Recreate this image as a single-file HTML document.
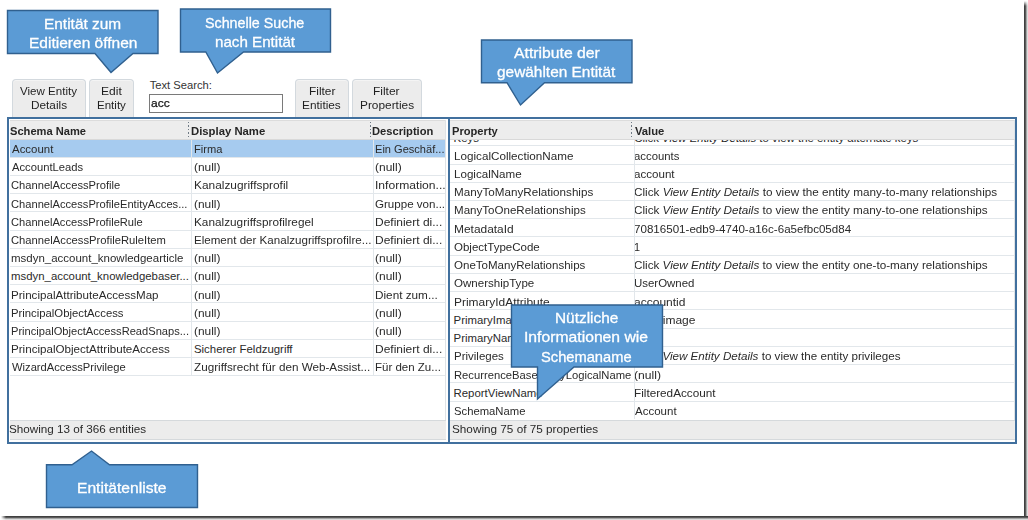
<!DOCTYPE html>
<html><head><meta charset="utf-8"><style>
html,body{margin:0;padding:0;background:#fff;}
#root{position:relative;width:1028px;height:520px;overflow:hidden;background:#fff;font-family:"Liberation Sans",sans-serif;}
.t{position:absolute;white-space:nowrap;transform-origin:0 0;}
.r{position:absolute;box-sizing:content-box;}
.btn{position:absolute;background:#ececec;border:1px solid #d3d9de;border-bottom:none;border-radius:4px 4px 0 0;box-shadow:inset 0 1px 0 #f4f4f4;}
i{font-style:italic;}
</style></head><body><div id="root">
<div class="btn" style="left:12px;top:79px;width:72px;height:40px;"></div>
<div class="t" style="left:20.25px;top:85.38px;font-size:11.6px;line-height:11.6px;color:#1f1f1f;font-weight:normal;transform:scaleX(0.9966);">View Entity</div>
<div class="t" style="left:30.63px;top:99.18px;font-size:11.6px;line-height:11.6px;color:#1f1f1f;font-weight:normal;transform:scaleX(1.0178);">Details</div>
<div class="btn" style="left:89px;top:79px;width:43px;height:40px;"></div>
<div class="t" style="left:100.71px;top:85.38px;font-size:11.6px;line-height:11.6px;color:#1f1f1f;font-weight:normal;transform:scaleX(1.0393);">Edit</div>
<div class="t" style="left:96.65px;top:99.18px;font-size:11.6px;line-height:11.6px;color:#1f1f1f;font-weight:normal;transform:scaleX(0.9951);">Entity</div>
<div class="btn" style="left:295px;top:79px;width:52px;height:40px;"></div>
<div class="t" style="left:308.72px;top:85.38px;font-size:11.6px;line-height:11.6px;color:#1f1f1f;font-weight:normal;transform:scaleX(1.0269);">Filter</div>
<div class="t" style="left:302.33px;top:99.18px;font-size:11.6px;line-height:11.6px;color:#1f1f1f;font-weight:normal;transform:scaleX(1.0200);">Entities</div>
<div class="btn" style="left:352px;top:79px;width:68px;height:40px;"></div>
<div class="t" style="left:373.22px;top:85.38px;font-size:11.6px;line-height:11.6px;color:#1f1f1f;font-weight:normal;transform:scaleX(1.0309);">Filter</div>
<div class="t" style="left:359.53px;top:99.18px;font-size:11.6px;line-height:11.6px;color:#1f1f1f;font-weight:normal;transform:scaleX(1.0232);">Properties</div>
<div class="t" style="left:149.65px;top:79.52px;font-size:11.2px;line-height:11.2px;color:#333;font-weight:normal;">Text Search:</div>
<div class="r" style="left:149px;top:94px;width:132px;height:17px;border:1px solid #7a7a7a;background:#fff"></div>
<div class="t" style="left:150.90px;top:98.01px;font-size:11.8px;line-height:11.8px;color:#111;font-weight:normal;transform:scaleX(1.0138);-webkit-text-stroke:0.25px #111;">acc</div>
<div class="r" style="left:9px;top:119px;width:439px;height:323px;background:#fff;"></div>
<div class="r" style="left:10px;top:120px;width:436px;height:19.5px;background:#ededed;border-top:1px solid #dcdcdc;"></div>
<div class="r" style="left:10px;top:139px;width:436px;height:1px;background:#d9d9d9;"></div>
<div class="r" style="left:10px;top:139.5px;width:436px;height:17.299999999999983px;background:#a6cbef;"></div>
<div class="r" style="left:10px;top:156.79999999999998px;width:436px;height:1.0px;background:#e2e7eb;"></div>
<div class="t" style="left:11.73px;top:144.05px;font-size:11.4px;line-height:11.4px;color:#2a2a2a;font-weight:normal;transform:scaleX(1.0040);">Account</div>
<div class="t" style="left:193.59px;top:144.05px;font-size:11.4px;line-height:11.4px;color:#2a2a2a;font-weight:normal;transform:scaleX(0.9754);">Firma</div>
<div class="t" style="left:374.89px;top:144.05px;font-size:11.4px;line-height:11.4px;color:#2a2a2a;font-weight:normal;transform:scaleX(0.9708);">Ein Geschäf...</div>
<div class="r" style="left:10px;top:175.0px;width:436px;height:1.0px;background:#e2e7eb;"></div>
<div class="t" style="left:11.73px;top:162.25px;font-size:11.4px;line-height:11.4px;color:#2a2a2a;font-weight:normal;transform:scaleX(0.9851);">AccountLeads</div>
<div class="t" style="left:193.76px;top:162.25px;font-size:11.4px;line-height:11.4px;color:#2a2a2a;font-weight:normal;transform:scaleX(1.0448);">(null)</div>
<div class="t" style="left:375.06px;top:162.25px;font-size:11.4px;line-height:11.4px;color:#2a2a2a;font-weight:normal;transform:scaleX(1.0531);">(null)</div>
<div class="r" style="left:10px;top:193.2px;width:436px;height:1.0px;background:#e2e7eb;"></div>
<div class="t" style="left:11.18px;top:180.45px;font-size:11.4px;line-height:11.4px;color:#2a2a2a;font-weight:normal;transform:scaleX(0.9801);">ChannelAccessProfile</div>
<div class="t" style="left:193.53px;top:180.45px;font-size:11.4px;line-height:11.4px;color:#2a2a2a;font-weight:normal;transform:scaleX(1.0427);">Kanalzugriffsprofil</div>
<div class="t" style="left:374.69px;top:180.45px;font-size:11.4px;line-height:11.4px;color:#2a2a2a;font-weight:normal;transform:scaleX(1.0629);">Information...</div>
<div class="r" style="left:10px;top:211.39999999999998px;width:436px;height:1.0px;background:#e2e7eb;"></div>
<div class="t" style="left:11.18px;top:198.65px;font-size:11.4px;line-height:11.4px;color:#2a2a2a;font-weight:normal;transform:scaleX(0.9778);">ChannelAccessProfileEntityAcces...</div>
<div class="t" style="left:193.76px;top:198.65px;font-size:11.4px;line-height:11.4px;color:#2a2a2a;font-weight:normal;transform:scaleX(1.0448);">(null)</div>
<div class="t" style="left:375.22px;top:198.65px;font-size:11.4px;line-height:11.4px;color:#2a2a2a;font-weight:normal;transform:scaleX(1.0153);">Gruppe von...</div>
<div class="r" style="left:10px;top:229.6px;width:436px;height:1.0px;background:#e2e7eb;"></div>
<div class="t" style="left:11.18px;top:216.85px;font-size:11.4px;line-height:11.4px;color:#2a2a2a;font-weight:normal;transform:scaleX(0.9766);">ChannelAccessProfileRule</div>
<div class="t" style="left:193.53px;top:216.85px;font-size:11.4px;line-height:11.4px;color:#2a2a2a;font-weight:normal;transform:scaleX(1.0345);">Kanalzugriffsprofilregel</div>
<div class="t" style="left:374.82px;top:216.85px;font-size:11.4px;line-height:11.4px;color:#2a2a2a;font-weight:normal;transform:scaleX(1.0513);">Definiert di...</div>
<div class="r" style="left:10px;top:247.79999999999998px;width:436px;height:1.0px;background:#e2e7eb;"></div>
<div class="t" style="left:11.18px;top:235.05px;font-size:11.4px;line-height:11.4px;color:#2a2a2a;font-weight:normal;transform:scaleX(0.9868);">ChannelAccessProfileRuleItem</div>
<div class="t" style="left:193.55px;top:235.05px;font-size:11.4px;line-height:11.4px;color:#2a2a2a;font-weight:normal;transform:scaleX(1.0162);">Element der Kanalzugriffsprofilre...</div>
<div class="t" style="left:374.82px;top:235.05px;font-size:11.4px;line-height:11.4px;color:#2a2a2a;font-weight:normal;transform:scaleX(1.0513);">Definiert di...</div>
<div class="r" style="left:10px;top:266.0px;width:436px;height:1.0px;background:#e2e7eb;"></div>
<div class="t" style="left:10.99px;top:253.25px;font-size:11.4px;line-height:11.4px;color:#2a2a2a;font-weight:normal;transform:scaleX(1.0083);">msdyn_account_knowledgearticle</div>
<div class="t" style="left:193.76px;top:253.25px;font-size:11.4px;line-height:11.4px;color:#2a2a2a;font-weight:normal;transform:scaleX(1.0448);">(null)</div>
<div class="t" style="left:375.06px;top:253.25px;font-size:11.4px;line-height:11.4px;color:#2a2a2a;font-weight:normal;transform:scaleX(1.0531);">(null)</div>
<div class="r" style="left:10px;top:284.2px;width:436px;height:1.0px;background:#e2e7eb;"></div>
<div class="t" style="left:11.00px;top:271.45px;font-size:11.4px;line-height:11.4px;color:#2a2a2a;font-weight:normal;">msdyn_account_knowledgebaser...</div>
<div class="t" style="left:193.76px;top:271.45px;font-size:11.4px;line-height:11.4px;color:#2a2a2a;font-weight:normal;transform:scaleX(1.0448);">(null)</div>
<div class="t" style="left:375.06px;top:271.45px;font-size:11.4px;line-height:11.4px;color:#2a2a2a;font-weight:normal;transform:scaleX(1.0531);">(null)</div>
<div class="r" style="left:10px;top:302.4px;width:436px;height:1.0px;background:#e2e7eb;"></div>
<div class="t" style="left:10.80px;top:289.65px;font-size:11.4px;line-height:11.4px;color:#2a2a2a;font-weight:normal;transform:scaleX(1.0179);">PrincipalAttributeAccessMap</div>
<div class="t" style="left:193.76px;top:289.65px;font-size:11.4px;line-height:11.4px;color:#2a2a2a;font-weight:normal;transform:scaleX(1.0448);">(null)</div>
<div class="t" style="left:374.84px;top:289.65px;font-size:11.4px;line-height:11.4px;color:#2a2a2a;font-weight:normal;transform:scaleX(1.0315);">Dient zum...</div>
<div class="r" style="left:10px;top:320.6px;width:436px;height:1.0px;background:#e2e7eb;"></div>
<div class="t" style="left:10.82px;top:307.85px;font-size:11.4px;line-height:11.4px;color:#2a2a2a;font-weight:normal;transform:scaleX(0.9928);">PrincipalObjectAccess</div>
<div class="t" style="left:193.76px;top:307.85px;font-size:11.4px;line-height:11.4px;color:#2a2a2a;font-weight:normal;transform:scaleX(1.0448);">(null)</div>
<div class="t" style="left:375.06px;top:307.85px;font-size:11.4px;line-height:11.4px;color:#2a2a2a;font-weight:normal;transform:scaleX(1.0531);">(null)</div>
<div class="r" style="left:10px;top:338.79999999999995px;width:436px;height:1.0px;background:#e2e7eb;"></div>
<div class="t" style="left:10.84px;top:326.05px;font-size:11.4px;line-height:11.4px;color:#2a2a2a;font-weight:normal;transform:scaleX(0.9764);">PrincipalObjectAccessReadSnaps...</div>
<div class="t" style="left:193.76px;top:326.05px;font-size:11.4px;line-height:11.4px;color:#2a2a2a;font-weight:normal;transform:scaleX(1.0448);">(null)</div>
<div class="t" style="left:375.06px;top:326.05px;font-size:11.4px;line-height:11.4px;color:#2a2a2a;font-weight:normal;transform:scaleX(1.0531);">(null)</div>
<div class="r" style="left:10px;top:357.0px;width:436px;height:1.0px;background:#e2e7eb;"></div>
<div class="t" style="left:10.80px;top:344.25px;font-size:11.4px;line-height:11.4px;color:#2a2a2a;font-weight:normal;transform:scaleX(1.0193);">PrincipalObjectAttributeAccess</div>
<div class="t" style="left:193.99px;top:344.25px;font-size:11.4px;line-height:11.4px;color:#2a2a2a;font-weight:normal;">Sicherer Feldzugriff</div>
<div class="t" style="left:374.82px;top:344.25px;font-size:11.4px;line-height:11.4px;color:#2a2a2a;font-weight:normal;transform:scaleX(1.0513);">Definiert di...</div>
<div class="r" style="left:10px;top:375.2px;width:436px;height:1.0px;background:#e2e7eb;"></div>
<div class="t" style="left:11.71px;top:362.45px;font-size:11.4px;line-height:11.4px;color:#2a2a2a;font-weight:normal;transform:scaleX(0.9815);">WizardAccessPrivilege</div>
<div class="t" style="left:194.14px;top:362.45px;font-size:11.4px;line-height:11.4px;color:#2a2a2a;font-weight:normal;transform:scaleX(1.0263);">Zugriffsrecht für den Web-Assist...</div>
<div class="t" style="left:374.86px;top:362.45px;font-size:11.4px;line-height:11.4px;color:#2a2a2a;font-weight:normal;transform:scaleX(1.0096);">Für den Zu...</div>
<div class="r" style="left:191px;top:139.5px;width:1px;height:236.2px;background:#e2e7eb;"></div>
<div class="r" style="left:373px;top:139.5px;width:1px;height:236.2px;background:#e2e7eb;"></div>
<div class="r" style="left:445px;top:120px;width:1px;height:319px;background:#dfe3e6;"></div>
<div class="r" style="left:188px;top:122px;width:1px;height:16px;background:repeating-linear-gradient(to bottom,#6f7a85 0,#6f7a85 1.5px,transparent 1.5px,transparent 3.5px)"></div>
<div class="r" style="left:370px;top:122px;width:1px;height:16px;background:repeating-linear-gradient(to bottom,#6f7a85 0,#6f7a85 1.5px,transparent 1.5px,transparent 3.5px)"></div>
<div class="t" style="left:9.88px;top:125.60px;font-size:11.1px;line-height:11.1px;color:#262626;font-weight:bold;transform:scaleX(1.0028);">Schema Name</div>
<div class="t" style="left:190.64px;top:125.60px;font-size:11.1px;line-height:11.1px;color:#262626;font-weight:bold;transform:scaleX(1.0199);">Display Name</div>
<div class="t" style="left:372.25px;top:125.60px;font-size:11.1px;line-height:11.1px;color:#262626;font-weight:bold;transform:scaleX(1.0045);">Description</div>
<div class="r" style="left:9.5px;top:420px;width:436.5px;height:17.5px;background:#ececec;border-top:1px solid #d5d9dc;border-bottom:1px solid #d5d9dc;"></div>
<div class="t" style="left:8.77px;top:424.27px;font-size:11.5px;line-height:11.5px;color:#2a2a2a;font-weight:normal;transform:scaleX(1.0166);">Showing 13 of 366 entities</div>
<div class="r" style="left:450px;top:119px;width:565px;height:323px;background:#fff;"></div>
<div class="r" style="left:450px;top:120px;width:564.5px;height:19px;background:#ededed;border-top:1px solid #dcdcdc;"></div>
<div class="r" style="left:450px;top:139px;width:565px;height:281px;overflow:hidden"><div class="r" style="left:-450px;top:-139px;width:1028px;height:520px"><div class="r" style="left:450px;top:145.3px;width:564.5px;height:1.0px;background:#e2e7eb;"></div><div class="t" style="left:453.57px;top:133.05px;font-size:11.4px;line-height:11.4px;color:#2a2a2a;font-weight:normal;">Keys</div><div class="t" style="left:634.22px;top:133.05px;font-size:11.4px;line-height:11.4px;color:#2a2a2a;font-weight:normal;">Click <i>View Entity Details</i> to view the entity alternate keys</div><div class="r" style="left:450px;top:163.53px;width:564.5px;height:1.0px;background:#e2e7eb;"></div><div class="t" style="left:453.54px;top:150.78px;font-size:11.4px;line-height:11.4px;color:#2a2a2a;font-weight:normal;transform:scaleX(1.0247);">LogicalCollectionName</div><div class="t" style="left:634.32px;top:150.78px;font-size:11.4px;line-height:11.4px;color:#2a2a2a;font-weight:normal;transform:scaleX(0.9948);">accounts</div><div class="r" style="left:450px;top:181.76000000000002px;width:564.5px;height:1.0px;background:#e2e7eb;"></div><div class="t" style="left:453.55px;top:169.01px;font-size:11.4px;line-height:11.4px;color:#2a2a2a;font-weight:normal;transform:scaleX(1.0178);">LogicalName</div><div class="t" style="left:634.31px;top:169.01px;font-size:11.4px;line-height:11.4px;color:#2a2a2a;font-weight:normal;transform:scaleX(1.0159);">account</div><div class="r" style="left:450px;top:199.99px;width:564.5px;height:1.0px;background:#e2e7eb;"></div><div class="t" style="left:453.54px;top:187.24px;font-size:11.4px;line-height:11.4px;color:#2a2a2a;font-weight:normal;transform:scaleX(1.0231);">ManyToManyRelationships</div><div class="t" style="left:634.20px;top:187.24px;font-size:11.4px;line-height:11.4px;color:#2a2a2a;font-weight:normal;transform:scaleX(1.0285);">Click <i>View Entity Details</i> to view the entity many-to-many relationships</div><div class="r" style="left:450px;top:218.22000000000003px;width:564.5px;height:1.0px;background:#e2e7eb;"></div><div class="t" style="left:453.55px;top:205.47px;font-size:11.4px;line-height:11.4px;color:#2a2a2a;font-weight:normal;transform:scaleX(1.0151);">ManyToOneRelationships</div><div class="t" style="left:634.20px;top:205.47px;font-size:11.4px;line-height:11.4px;color:#2a2a2a;font-weight:normal;transform:scaleX(1.0274);">Click <i>View Entity Details</i> to view the entity many-to-one relationships</div><div class="r" style="left:450px;top:236.45000000000002px;width:564.5px;height:1.0px;background:#e2e7eb;"></div><div class="t" style="left:453.52px;top:223.70px;font-size:11.4px;line-height:11.4px;color:#2a2a2a;font-weight:normal;transform:scaleX(1.0475);">MetadataId</div><div class="t" style="left:634.21px;top:223.70px;font-size:11.4px;line-height:11.4px;color:#2a2a2a;font-weight:normal;transform:scaleX(1.0174);">70816501-edb9-4740-a16c-6a5efbc05d84</div><div class="r" style="left:450px;top:254.68px;width:564.5px;height:1.0px;background:#e2e7eb;"></div><div class="t" style="left:453.96px;top:241.93px;font-size:11.4px;line-height:11.4px;color:#2a2a2a;font-weight:normal;transform:scaleX(1.0104);">ObjectTypeCode</div><div class="t" style="left:633.97px;top:241.93px;font-size:11.4px;line-height:11.4px;color:#2a2a2a;font-weight:normal;transform:scaleX(0.9544);">1</div><div class="r" style="left:450px;top:272.91px;width:564.5px;height:1.0px;background:#e2e7eb;"></div><div class="t" style="left:453.96px;top:260.16px;font-size:11.4px;line-height:11.4px;color:#2a2a2a;font-weight:normal;transform:scaleX(1.0120);">OneToManyRelationships</div><div class="t" style="left:634.20px;top:260.16px;font-size:11.4px;line-height:11.4px;color:#2a2a2a;font-weight:normal;transform:scaleX(1.0274);">Click <i>View Entity Details</i> to view the entity one-to-many relationships</div><div class="r" style="left:450px;top:291.14px;width:564.5px;height:1.0px;background:#e2e7eb;"></div><div class="t" style="left:453.96px;top:278.39px;font-size:11.4px;line-height:11.4px;color:#2a2a2a;font-weight:normal;transform:scaleX(1.0138);">OwnershipType</div><div class="t" style="left:633.92px;top:278.39px;font-size:11.4px;line-height:11.4px;color:#2a2a2a;font-weight:normal;transform:scaleX(1.0054);">UserOwned</div><div class="r" style="left:450px;top:309.37px;width:564.5px;height:1.0px;background:#e2e7eb;"></div><div class="t" style="left:453.52px;top:296.62px;font-size:11.4px;line-height:11.4px;color:#2a2a2a;font-weight:normal;transform:scaleX(1.0497);">PrimaryIdAttribute</div><div class="t" style="left:634.29px;top:296.62px;font-size:11.4px;line-height:11.4px;color:#2a2a2a;font-weight:normal;transform:scaleX(1.0547);">accountid</div><div class="r" style="left:450px;top:327.6px;width:564.5px;height:1.0px;background:#e2e7eb;"></div><div class="t" style="left:453.57px;top:314.85px;font-size:11.4px;line-height:11.4px;color:#2a2a2a;font-weight:normal;">PrimaryImageAttribute</div><div class="t" style="left:634.30px;top:314.85px;font-size:11.4px;line-height:11.4px;color:#2a2a2a;font-weight:normal;transform:scaleX(1.0546);">entityimage</div><div class="r" style="left:450px;top:345.83000000000004px;width:564.5px;height:1.0px;background:#e2e7eb;"></div><div class="t" style="left:453.57px;top:333.08px;font-size:11.4px;line-height:11.4px;color:#2a2a2a;font-weight:normal;">PrimaryNameAttribute</div><div class="t" style="left:634.05px;top:333.08px;font-size:11.4px;line-height:11.4px;color:#2a2a2a;font-weight:normal;">name</div><div class="r" style="left:450px;top:364.06px;width:564.5px;height:1.0px;background:#e2e7eb;"></div><div class="t" style="left:453.56px;top:351.31px;font-size:11.4px;line-height:11.4px;color:#2a2a2a;font-weight:normal;transform:scaleX(1.0089);">Privileges</div><div class="t" style="left:634.21px;top:351.31px;font-size:11.4px;line-height:11.4px;color:#2a2a2a;font-weight:normal;transform:scaleX(1.0201);">Click <i>View Entity Details</i> to view the entity privileges</div><div class="r" style="left:450px;top:382.29px;width:564.5px;height:1.0px;background:#e2e7eb;"></div><div class="t" style="left:453.58px;top:369.54px;font-size:11.4px;line-height:11.4px;color:#2a2a2a;font-weight:normal;transform:scaleX(0.9859);">RecurrenceBaseEntityLogicalName</div><div class="t" style="left:634.05px;top:369.54px;font-size:11.4px;line-height:11.4px;color:#2a2a2a;font-weight:normal;transform:scaleX(1.0657);">(null)</div><div class="r" style="left:450px;top:400.52px;width:564.5px;height:1.0px;background:#e2e7eb;"></div><div class="t" style="left:453.57px;top:387.77px;font-size:11.4px;line-height:11.4px;color:#2a2a2a;font-weight:normal;">ReportViewName</div><div class="t" style="left:633.84px;top:387.77px;font-size:11.4px;line-height:11.4px;color:#2a2a2a;font-weight:normal;transform:scaleX(1.0308);">FilteredAccount</div><div class="t" style="left:453.99px;top:406.00px;font-size:11.4px;line-height:11.4px;color:#2a2a2a;font-weight:normal;transform:scaleX(0.9899);">SchemaName</div><div class="t" style="left:634.78px;top:406.00px;font-size:11.4px;line-height:11.4px;color:#2a2a2a;font-weight:normal;transform:scaleX(1.0101);">Account</div></div></div>
<div class="r" style="left:634px;top:139px;width:1px;height:280px;background:#e2e7eb;"></div>
<div class="r" style="left:1014px;top:120px;width:1px;height:319px;background:#dfe3e6;"></div>
<div class="r" style="left:450px;top:138.5px;width:564.5px;height:1.0px;background:#d9d9d9;"></div>
<div class="r" style="left:631px;top:122px;width:1px;height:16px;background:repeating-linear-gradient(to bottom,#6f7a85 0,#6f7a85 1.5px,transparent 1.5px,transparent 3.5px)"></div>
<div class="t" style="left:452.25px;top:125.60px;font-size:11.1px;line-height:11.1px;color:#262626;font-weight:bold;transform:scaleX(1.0035);">Property</div>
<div class="t" style="left:634.62px;top:125.60px;font-size:11.1px;line-height:11.1px;color:#262626;font-weight:bold;transform:scaleX(1.0123);">Value</div>
<div class="r" style="left:450px;top:419.5px;width:564.5px;height:18.0px;background:#ececec;border-top:1px solid #d5d9dc;border-bottom:1px solid #d5d9dc;"></div>
<div class="t" style="left:451.87px;top:423.77px;font-size:11.5px;line-height:11.5px;color:#2a2a2a;font-weight:normal;transform:scaleX(1.0212);">Showing 75 of 75 properties</div>
<div class="r" style="left:7px;top:117px;width:439px;height:323px;border:2px solid #41709e;"></div>
<div class="r" style="left:448px;top:117px;width:565px;height:323px;border:2px solid #41709e;"></div>
<svg class="r" style="left:0;top:0" width="1028" height="520"><path d="M7.5,10.5 L158,10.5 L158,53.5 L133,53.5 L111,72.5 L95,53.5 L7.5,53.5 Z" fill="#5b9bd5" stroke="#30608f" stroke-width="1.4" stroke-linejoin="miter"/></svg>
<div class="t" style="left:44.23px;top:15.50px;font-size:15px;line-height:15px;color:#ffffff;font-weight:normal;transform:scaleX(1.0287);-webkit-text-stroke:0.3px #fff;">Entität zum</div>
<div class="t" style="left:28.53px;top:34.50px;font-size:15px;line-height:15px;color:#ffffff;font-weight:normal;transform:scaleX(1.0351);-webkit-text-stroke:0.3px #fff;">Editieren öffnen</div>
<svg class="r" style="left:0;top:0" width="1028" height="520"><path d="M180.5,9 L330.5,9 L330.5,52 L243.5,52 L217.5,73 L205.8,52 L180.5,52 Z" fill="#5b9bd5" stroke="#30608f" stroke-width="1.4" stroke-linejoin="miter"/></svg>
<div class="t" style="left:205.36px;top:14.60px;font-size:15px;line-height:15px;color:#ffffff;font-weight:normal;transform:scaleX(0.9524);-webkit-text-stroke:0.3px #fff;">Schnelle Suche</div>
<div class="t" style="left:214.50px;top:33.80px;font-size:15px;line-height:15px;color:#ffffff;font-weight:normal;transform:scaleX(1.0100);-webkit-text-stroke:0.3px #fff;">nach Entität</div>
<svg class="r" style="left:0;top:0" width="1028" height="520"><path d="M481.5,40 L632,40 L632,82.7 L544.5,82.7 L520.5,105 L507,82.7 L481.5,82.7 Z" fill="#5b9bd5" stroke="#30608f" stroke-width="1.4" stroke-linejoin="miter"/></svg>
<div class="t" style="left:514.27px;top:44.60px;font-size:15px;line-height:15px;color:#ffffff;font-weight:normal;transform:scaleX(1.0499);-webkit-text-stroke:0.3px #fff;">Attribute der</div>
<div class="t" style="left:497.35px;top:63.80px;font-size:15px;line-height:15px;color:#ffffff;font-weight:normal;transform:scaleX(1.0276);-webkit-text-stroke:0.3px #fff;">gewählten Entität</div>
<svg class="r" style="left:0;top:0" width="1028" height="520"><path d="M511.5,305 L662.5,305 L662.5,367 L574,367 L537.5,399 L537.5,367 L511.5,367 Z" fill="#5b9bd5" stroke="#30608f" stroke-width="1.4" stroke-linejoin="miter"/></svg>
<div class="t" style="left:554.74px;top:309.80px;font-size:15px;line-height:15px;color:#ffffff;font-weight:normal;transform:scaleX(1.0267);-webkit-text-stroke:0.3px #fff;">Nützliche</div>
<div class="t" style="left:524.35px;top:329.30px;font-size:15px;line-height:15px;color:#ffffff;font-weight:normal;transform:scaleX(1.0477);-webkit-text-stroke:0.3px #fff;">Informationen wie</div>
<div class="t" style="left:541.24px;top:348.80px;font-size:15px;line-height:15px;color:#ffffff;font-weight:normal;transform:scaleX(0.9790);-webkit-text-stroke:0.3px #fff;">Schemaname</div>
<svg class="r" style="left:0;top:0" width="1028" height="520"><path d="M46.5,464.8 L72,464.8 L91.5,451 L109.5,464.8 L197.5,464.8 L197.5,507.5 L46.5,507.5 Z" fill="#5b9bd5" stroke="#30608f" stroke-width="1.4" stroke-linejoin="miter"/></svg>
<div class="t" style="left:76.92px;top:479.80px;font-size:15px;line-height:15px;color:#ffffff;font-weight:normal;transform:scaleX(1.0419);-webkit-text-stroke:0.3px #fff;">Entitätenliste</div>
<div class="r" style="left:1024px;top:1px;width:4px;height:519px;background:linear-gradient(to right,#333 0,#555 35%,#bbb 70%,#f4f4f4 100%);-webkit-mask-image:linear-gradient(to bottom,transparent 0,#000 5px)"></div>
<div class="r" style="left:1px;top:516px;width:1027px;height:4px;background:linear-gradient(to bottom,#333 0,#555 35%,#bbb 70%,#f4f4f4 100%);-webkit-mask-image:linear-gradient(to right,transparent 0,#000 5px)"></div>
</div></body></html>
